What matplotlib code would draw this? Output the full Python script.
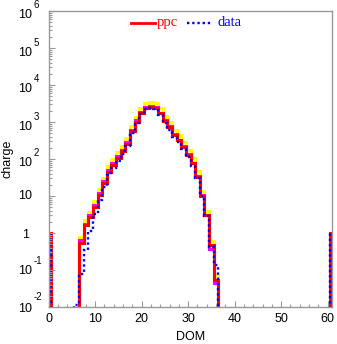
import numpy as np
import matplotlib
matplotlib.use("Agg")
import matplotlib.pyplot as plt
from matplotlib.ticker import MultipleLocator, LogLocator, NullFormatter
from matplotlib.transforms import offset_copy

# Charge per DOM, starting at DOM 6 and running to DOM 36
dom_first = 6
ppc = [0, 0.53, 1.6, 2.7, 5.0, 10.5, 22, 45, 70, 105, 160, 260, 560, 1000, 1700,
       2350, 2600, 2350, 1700, 1050, 720, 450, 320, 210, 130, 78, 33, 10, 3.0,
       0.47, 0.054]
data = [0.011, 0.08, 0.35, 1.1, 3.2, 8, 17, 38, 58, 90, 135, 230, 500, 950, 1600,
        2200, 2450, 2200, 1550, 950, 620, 400, 280, 185, 115, 65, 31, 10, 2.8,
        0.43, 0.14]
ppc_alt = [0, 0.65, 1.8, 3.1, 5.8, 12, 25, 50, 78, 118, 180, 290, 620, 1100, 1850,
           2500, 2750, 2500, 1800, 1100, 760, 470, 335, 220, 135, 80, 35, 10.5, 3.1,
           0.37, 0.045]
ppc_high = [0, 0.8, 2.2, 3.8, 7.2, 15, 31, 63, 98, 150, 225, 370, 780, 1400, 2350,
            3200, 3500, 3200, 2350, 1450, 1000, 620, 440, 290, 180, 108, 46, 14, 3.9,
            0.62, 0.073]
# Marker bins at both ends of the DOM range
edge_dom = [0, 61]
edge_charge = 1.0

x_ticks = [0, 10, 20, 30, 40, 50, 60]
y_exponents = [-2, -1, 0, 1, 2, 3, 4, 5, 6]

n_bins = 62
edges = np.arange(n_bins + 1) - 0.5
floor = 1e-6


def full(series):
    v = np.full(n_bins, floor)
    s = np.asarray(series, dtype=float)
    v[dom_first:dom_first + len(s)] = np.where(s > 0, s, floor)
    v[edge_dom] = edge_charge
    return v


W, H = 337, 344
fig = plt.figure(figsize=(W / 100, H / 100), dpi=100)
left, right, top, bottom = 48.7, 332.3, 11.0, 307.0
ax = fig.add_axes([left / W, 1 - bottom / H, (right - left) / W, (bottom - top) / H])
ax.set_yscale('log')
ax.set_xlim(0, 61)
ax.set_ylim(1e-2, 1e6)

ax.stairs(full(ppc_high), edges, baseline=None, color='#ffff00', lw=2.2)
ax.stairs(full(ppc_alt), edges, baseline=None, color='#ff00ff', lw=2.2)
ax.stairs(full(ppc), edges, baseline=None, color='#ff0000', lw=2.2)
ax.stairs(full(data), edges, baseline=None, color='#0000ff', lw=1.7,
          linestyle=(0, (1, 1.2)))

frame_col = '#999999'
for s in ax.spines.values():
    s.set_color(frame_col)
    s.set_linewidth(1.0)

ax.xaxis.set_major_locator(MultipleLocator(10))
ax.xaxis.set_minor_locator(MultipleLocator(2))
ax.yaxis.set_major_locator(LogLocator(base=10, numticks=20))
ax.yaxis.set_minor_locator(LogLocator(base=10, subs=np.arange(2, 10), numticks=20))
ax.yaxis.set_minor_formatter(NullFormatter())
ax.tick_params(which='both', direction='in', top=False, right=False, color=frame_col,
               width=0.8)
ax.tick_params(which='major', length=4.5)
ax.tick_params(which='minor', length=2.5)
ax.tick_params(axis='y', labelleft=False)
ax.set_xticks(x_ticks)
ax.set_xticklabels([str(t) for t in x_ticks])
ax.tick_params(axis='x', labelsize=9, pad=4)
for lbl in ax.get_xticklabels():
    lbl.set_family('Liberation Sans')

# y tick labels written as base plus raised exponent
ytr = ax.get_yaxis_transform()
sans = 'Liberation Sans'
x_base = (31.7 - left) / (right - left)
x_sup = (33.5 - left) / (right - left)
for e in y_exponents:
    yv = 10.0 ** e
    if e == 0:
        ax.text((29.5 - left) / (right - left), yv, '1', transform=offset_copy(ytr, fig, y=-1.5, units='dots'),
                ha='right', va='center', fontsize=9, family=sans)
    elif e == 1:
        ax.text(x_base, yv, '10', transform=ytr, ha='right', va='center', fontsize=9, family=sans)
    else:
        dy_base = -4.5 if e > 0 else -1.5
        dy_sup = 5.5 if e > 0 else 9.5
        ax.text(x_base, yv, '10', transform=offset_copy(ytr, fig, y=dy_base, units='dots'),
                ha='right', va='center', fontsize=9, family=sans)
        ax.text(x_sup, yv, str(e), transform=offset_copy(ytr, fig, y=dy_sup, units='dots'),
                ha='left', va='center', fontsize=7, family=sans)

ax.set_xlabel('DOM', fontsize=9, family=sans, labelpad=5)
ax.set_ylabel('charge', fontsize=9, family=sans, labelpad=22)

# legend
ly = (bottom - 22.5) / (bottom - top)
fx = lambda px: (px - left) / (right - left)
ax.plot([fx(131), fx(155)], [ly, ly], transform=ax.transAxes, color='#ff0000', lw=2.0)
ax.text(fx(157), ly, 'ppc', transform=ax.transAxes, color='#ff0000', ha='left', va='center',
        fontsize=10.5, family='Liberation Serif')
ax.plot([fx(187), fx(213)], [ly, ly], transform=ax.transAxes, color='#0000ff', lw=1.7,
        linestyle=(0, (1, 1.2)))
ax.text(fx(218), ly, 'data', transform=ax.transAxes, color='#0000ff', ha='left', va='center',
        fontsize=10.5, family='Liberation Serif')

fig.savefig('out.png', dpi=100)
